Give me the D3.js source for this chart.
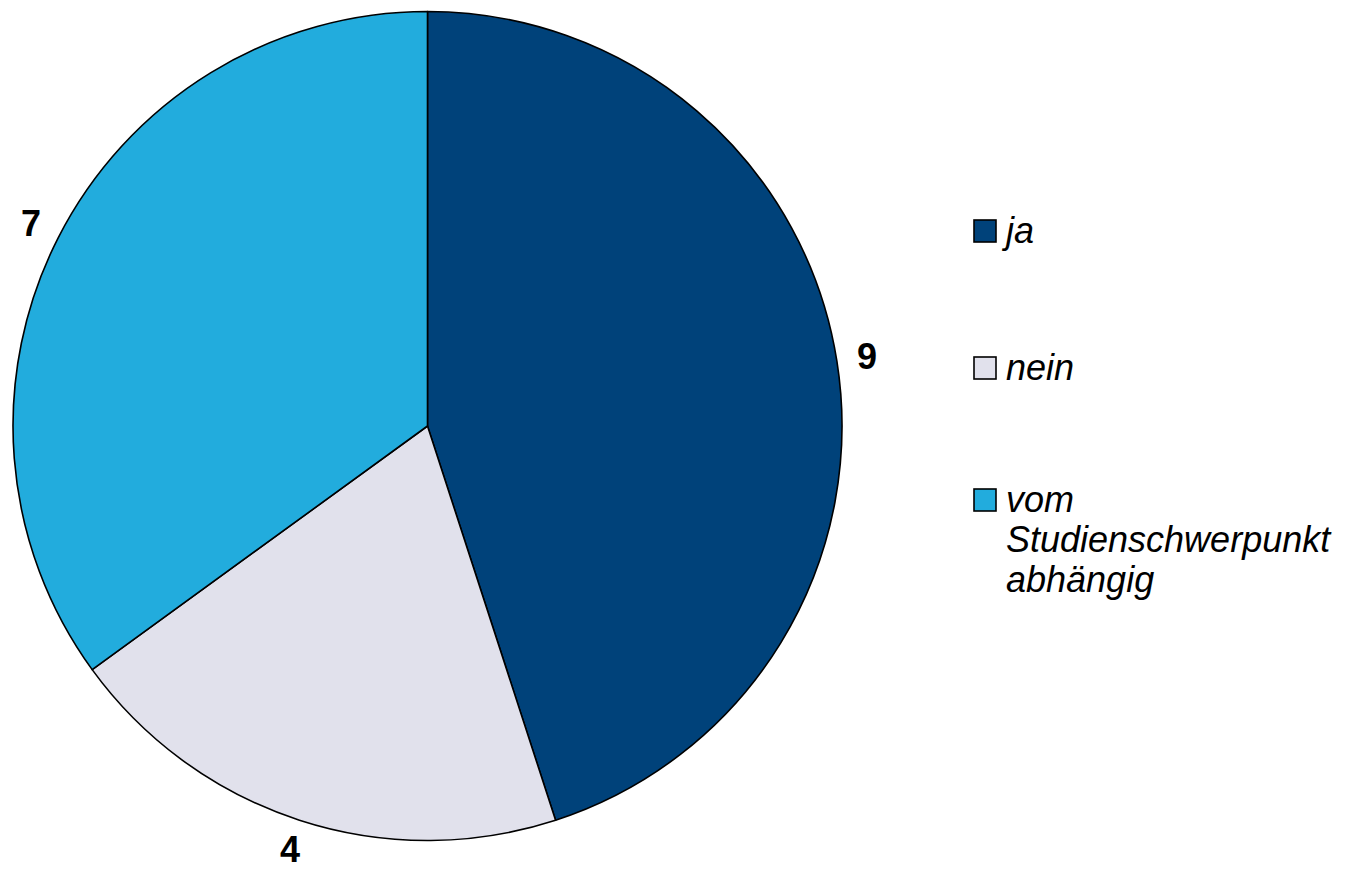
<!DOCTYPE html>
<html><head><meta charset="utf-8">
<script src="https://cdn.jsdelivr.net/npm/d3@7"></script>
<style>body{margin:0;background:#fff}svg{display:block}</style>
</head><body>
<svg id="chart" width="1345" height="873"></svg>
<script>
const categories = ["ja", "nein", "vom Studienschwerpunkt abhängig"];
const legendLines = [["ja"], ["nein"], ["vom", "Studienschwerpunkt", "abhängig"]];
const values = [9, 4, 7];
const colors = ["#00427a", "#e1e1ec", "#22acdd"];

const svg = d3.select("#chart");
const cx = 427.5, cy = 426, R = 414.5, labelR = 445;
const data = categories.map((c, i) => ({cat: c, value: values[i], color: colors[i], lines: legendLines[i]}));

const pie = d3.pie().value(d => d.value).sort(null);
const arcs = pie(data);
const arc = d3.arc().innerRadius(0).outerRadius(R);
const labelArc = d3.arc().innerRadius(labelR).outerRadius(labelR);

const g = svg.append("g").attr("transform", `translate(${cx},${cy})`);
g.selectAll("path").data(arcs).join("path")
  .attr("d", arc).attr("fill", d => d.data.color)
  .attr("stroke", "#000").attr("stroke-width", 1.6).attr("stroke-linejoin", "round");

g.selectAll("text.lbl").data(arcs).join("text").attr("class", "lbl")
  .attr("transform", d => `translate(${labelArc.centroid(d)})`)
  .attr("text-anchor", "middle").attr("dominant-baseline", "central")
  .attr("font-family", "Liberation Sans, Arial, sans-serif")
  .attr("font-weight", "bold").attr("font-size", 36)
  .text(d => d.data.value);

// legend
const legY = [231, 368, 500];
const lg = svg.append("g");
data.forEach((d, i) => {
  lg.append("rect").attr("x", 974).attr("y", legY[i] - 11).attr("width", 22).attr("height", 22)
    .attr("fill", d.color).attr("stroke", "#000").attr("stroke-width", 1.6);
  const t = lg.append("text").attr("x", 1006).attr("y", legY[i] + 12)
    .attr("font-family", "Liberation Sans, Arial, sans-serif")
    .attr("font-style", "italic").attr("font-size", 36).attr("fill", "#000");
  d.lines.forEach((ln, j) => {
    t.append("tspan").attr("x", 1006).attr("dy", j === 0 ? 0 : 40).text(ln);
  });
});
</script>
</body></html>
